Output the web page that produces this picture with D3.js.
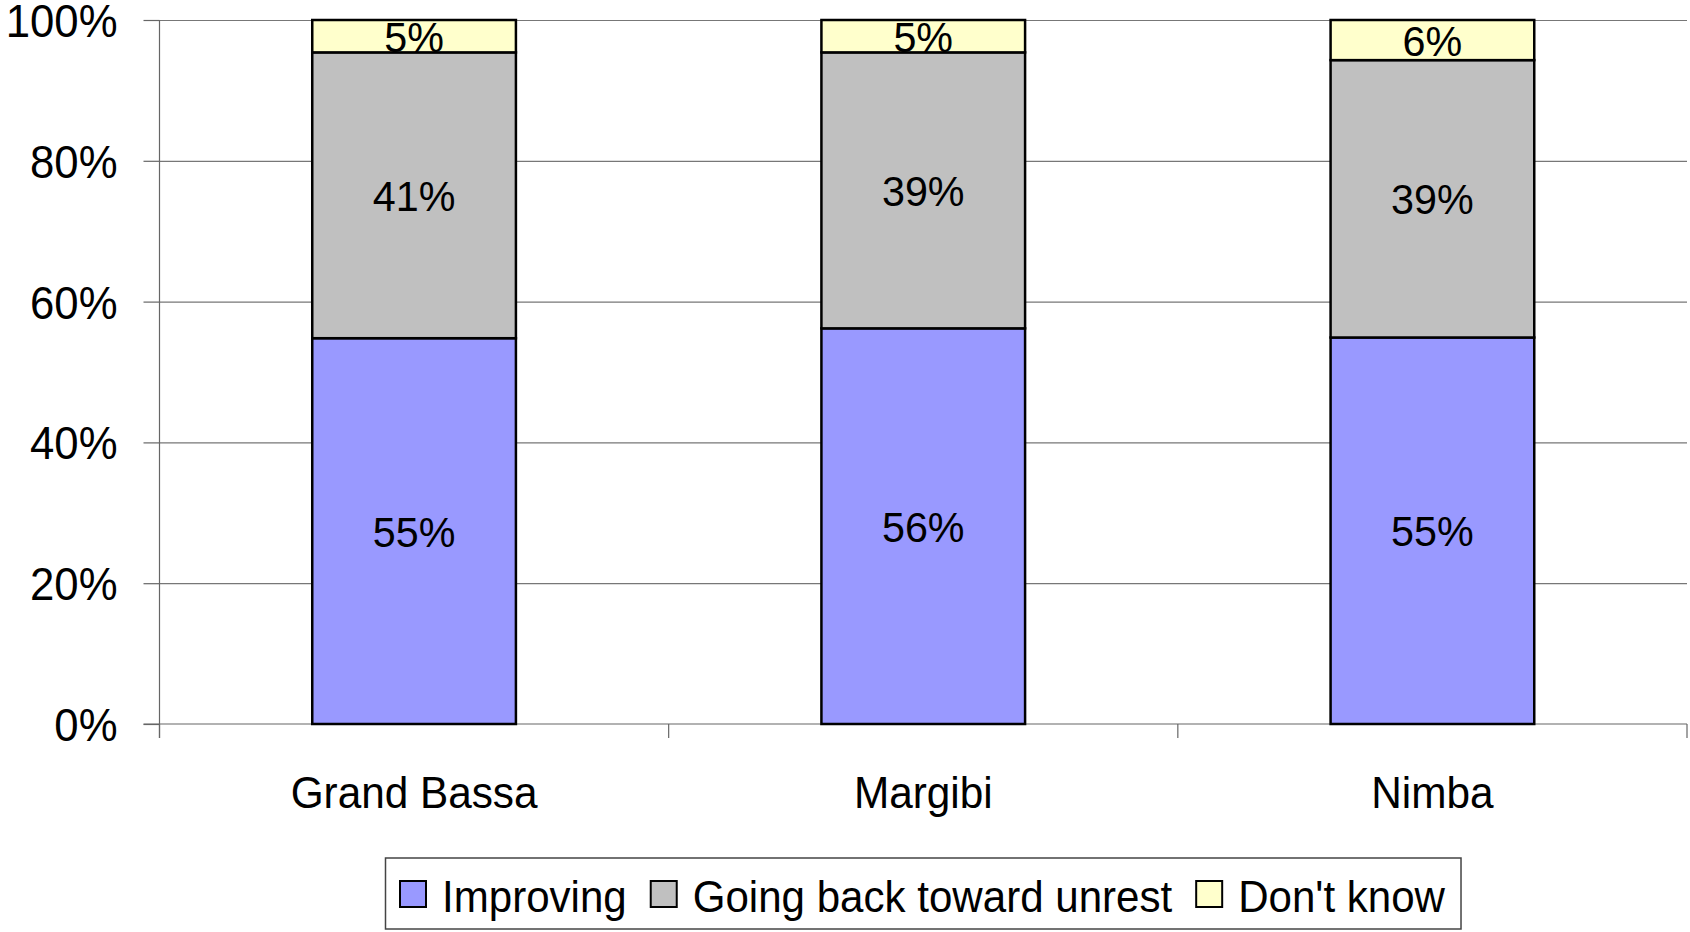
<!DOCTYPE html>
<style>
body { margin: 0; background: #fff; }
text { font-family: "Liberation Sans", Arial, sans-serif; fill: #000; }
.axis .domain { display: none; }
</style>
<svg width="1690" height="932" id="chart"></svg>
<script src="https://d3js.org/d3.v7.min.js"></script>
<script>
var categories = ["Grand Bassa", "Margibi", "Nimba"];
var seriesNames = ["Improving", "Going back toward unrest", "Don't know"];
var improving = [54.8, 56.2, 54.9];
var goingBack = [40.6, 39.2, 39.4];
var dontKnow = [4.6, 4.6, 5.7];
var yTicks = [0, 20, 40, 60, 80, 100];
var colors = ["#9999ff", "#c0c0c0", "#ffffcc"];

var svg = d3.select("#chart"),
    plotLeft = 159.5, plotRight = 1687, plotTop = 20, plotBottom = 724;

// squeeze text a bit, the original font runs narrow
function condense(sel, f) {
  sel.each(function() {
    var w = this.getComputedTextLength();
    d3.select(this).attr("textLength", w * f).attr("lengthAdjust", "spacingAndGlyphs");
  });
}

var rows = categories.map(function(c, i) {
  return {cat: c, "Improving": improving[i], "Going back toward unrest": goingBack[i], "Don't know": dontKnow[i]};
});

var x = d3.scaleBand().domain(categories).range([plotLeft, plotRight]).padding(0);
var y = d3.scaleLinear().domain([0, 100]).range([plotBottom, plotTop]);
var z = d3.scaleOrdinal().domain(seriesNames).range(colors);

var stacked = d3.stack().keys(seriesNames)(rows);

// gridlines
svg.append("g")
    .attr("class", "axis")
    .attr("transform", "translate(" + plotLeft + ",0)")
    .call(d3.axisLeft(y).tickValues(yTicks.slice(1)).tickSize(-(plotRight - plotLeft)).tickFormat(""))
    .selectAll("line").attr("stroke", "#777").attr("stroke-width", 1.2);

// y axis with labels
var yAxis = svg.append("g")
    .attr("class", "axis")
    .attr("transform", "translate(" + plotLeft + ",0)")
    .call(d3.axisLeft(y).tickValues(yTicks).tickSize(16).tickPadding(26).tickFormat(function(d) { return d + "%"; }));
yAxis.selectAll("line").attr("stroke", "#666").attr("stroke-width", 1.2);
yAxis.selectAll("text").attr("font-size", 46).attr("dy", "0.36em").call(condense, 0.95);

svg.append("line")
    .attr("x1", plotLeft).attr("x2", plotLeft).attr("y1", plotTop).attr("y2", plotBottom + 14)
    .attr("stroke", "#666").attr("stroke-width", 1.2);
svg.append("line")
    .attr("x1", plotLeft - 16).attr("x2", plotRight).attr("y1", plotBottom).attr("y2", plotBottom)
    .attr("stroke", "#666").attr("stroke-width", 1.2);

// category boundary ticks
svg.append("g").selectAll("line")
    .data(categories.map(function(c) { return x(c); }).concat([plotRight]))
  .enter().append("line")
    .attr("x1", function(d) { return d; }).attr("x2", function(d) { return d; })
    .attr("y1", plotBottom).attr("y2", plotBottom + 14)
    .attr("stroke", "#666").attr("stroke-width", 1.2);

// category labels
var xAxis = svg.append("g")
    .attr("class", "axis")
    .attr("transform", "translate(0," + plotBottom + ")")
    .call(d3.axisBottom(x).tickSize(0).tickPadding(52));
xAxis.selectAll("text").attr("font-size", 45).call(condense, 0.94);

// bars
var barW = x.bandwidth() * 0.4;
var layer = svg.append("g").selectAll("g")
    .data(stacked)
  .enter().append("g")
    .attr("fill", function(d) { return z(d.key); });

layer.selectAll("rect")
    .data(function(d) { return d; })
  .enter().append("rect")
    .attr("x", function(d) { return x(d.data.cat) + (x.bandwidth() - barW) / 2; })
    .attr("y", function(d) { return y(d[1]); })
    .attr("width", barW)
    .attr("height", function(d) { return y(d[0]) - y(d[1]); })
    .attr("stroke", "#000")
    .attr("stroke-width", 2.5);

layer.selectAll("text")
    .data(function(d) { return d; })
  .enter().append("text")
    .attr("x", function(d) { return x(d.data.cat) + x.bandwidth() / 2; })
    .attr("y", function(d) { return (y(d[0]) + y(d[1])) / 2; })
    .attr("dy", "0.36em")
    .attr("text-anchor", "middle")
    .attr("font-size", 43)
    .attr("fill", "#000")
    .text(function(d) { return Math.round(d[1] - d[0]) + "%"; })
    .call(condense, 0.96);

// legend
var legend = svg.append("g");
var box = legend.append("rect")
    .attr("fill", "#fff").attr("stroke", "#444").attr("stroke-width", 1.5);
var lx = 400;
seriesNames.forEach(function(name) {
  legend.append("rect")
      .attr("x", lx).attr("y", 881)
      .attr("width", 26).attr("height", 26)
      .attr("fill", z(name)).attr("stroke", "#000").attr("stroke-width", 2);
  var t = legend.append("text")
      .attr("x", lx + 42).attr("y", 912)
      .attr("font-size", 45)
      .text(name);
  t.call(condense, 0.935);
  lx = lx + 42 + (+t.attr("textLength")) + 24;
});
box.attr("x", 385.5).attr("y", 858).attr("width", lx - 24 + 16 - 385.5).attr("height", 71);
</script>
